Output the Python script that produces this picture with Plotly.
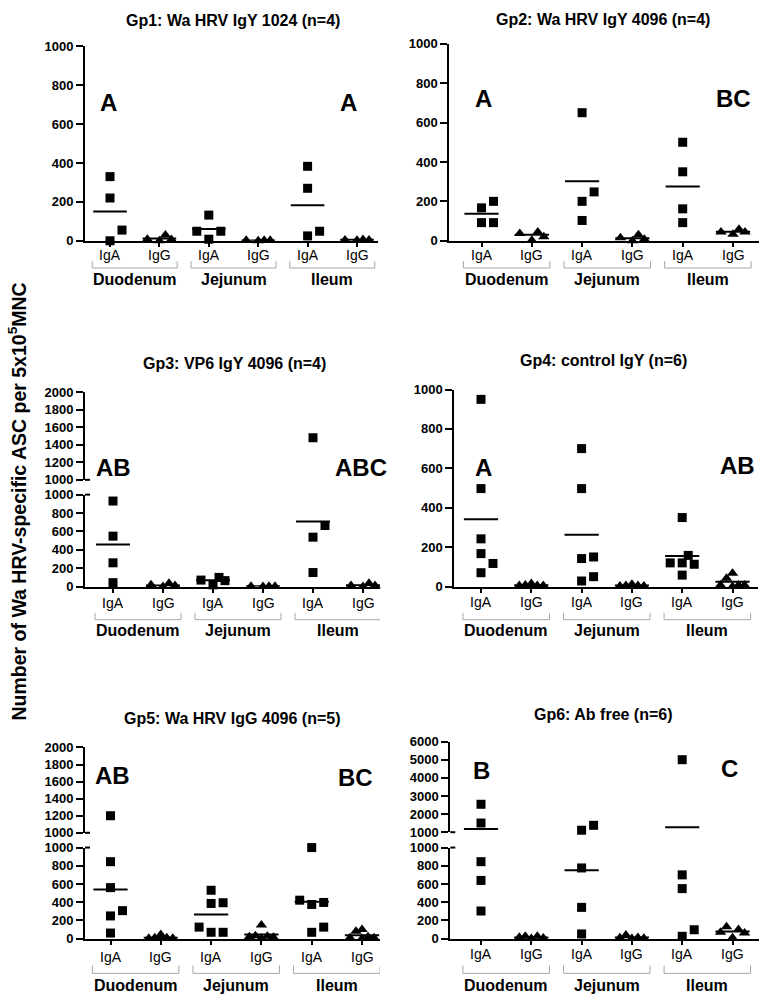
import plotly.graph_objects as go

W, H = 762, 1005
FONT = "Arial, Liberation Sans, sans-serif"

# ---------------- data ----------------
categories = ["IgA", "IgG", "IgA", "IgG", "IgA", "IgG"]
regions = ["Duodenum", "Jejunum", "Ileum"]
titles = ["Gp1: Wa HRV IgY 1024 (n=4)", "Gp2: Wa HRV IgY 4096 (n=4)",
          "Gp3: VP6 IgY 4096 (n=4)", "Gp4: control IgY (n=6)",
          "Gp5: Wa HRV IgG 4096 (n=5)", "Gp6: Ab free (n=6)"]
letters = [["A", "A"], ["A", "BC"], ["AB", "ABC"], ["A", "AB"], ["AB", "BC"], ["B", "C"]]
y_title = "Number of Wa HRV-specific ASC per 5x10<sup>5</sup>MNC"

gp1_iga = [[330, 220, 55, 0], [132, 49, 49, 8], [383, 270, 49, 25]]
gp1_igg = [[8, 0, 30, 7], [2, 0, 3, 2], [4, 2, 6, 4]]
gp1_iga_mean = [150, 60, 183]
gp1_igg_mean = [12, 1, 5]

gp2_iga = [[200, 167, 92, 92], [650, 248, 200, 103], [500, 350, 162, 92]]
gp2_igg = [[37, 3, 45, 20], [15, 0, 30, 8], [45, 33, 58, 45]]
gp2_iga_mean = [137, 302, 276]
gp2_igg_mean = [30, 13, 46]

gp3_iga = [[930, 548, 258, 42], [70, 18, 99, 64], [1480, 664, 537, 152]]
gp3_igg = [[18, 0, 35, 10], [2, 0, 3, 2], [10, 0, 35, 10]]
gp3_iga_mean = [458, 68, 707]
gp3_igg_mean = [12, 2, 14]

gp4_iga = [[950, 497, 242, 167, 117, 70], [700, 497, 150, 142, 50, 28],
           [350, 158, 120, 120, 113, 58]]
gp4_igg = [[5, 5, 0, 15, 8, 5], [3, 5, 0, 12, 5, 3], [8, 42, 67, 0, 8, 8]]
gp4_iga_mean = [342, 263, 155]
gp4_igg_mean = [6, 5, 24]

gp5_iga = [[1200, 845, 560, 307, 249, 61], [531, 394, 386, 126, 69, 69],
           [1000, 422, 397, 375, 126, 69]]
gp5_igg = [[8, 3, 45, 0, 8, 5], [148, 25, 20, 5, 30, 15], [20, 80, 100, 0, 10, 10]]
gp5_iga_mean = [538, 265, 404]
gp5_igg_mean = [10, 45, 36]

gp6_iga = [[2540, 1507, 845, 639, 303], [1380, 1109, 776, 343, 51],
           [5000, 700, 549, 97, 25]]
gp6_igg = [[14, 25, 0, 25, 7], [10, 40, 0, 12, 5], [60, 130, 10, 100, 70]]
gp6_iga_mean = [1181, 752, 1272]
gp6_igg_mean = [12, 12, 79]

lower_ticks = [0, 200, 400, 600, 800, 1000]
upper_ticks_2000 = [1000, 1200, 1400, 1600, 1800, 2000]
upper_ticks_6000 = [1000, 2000, 3000, 4000, 5000, 6000]

# ---------------- layout geometry (pixels) ----------------
panels = [
    dict(iga=gp1_iga, igg=gp1_igg, mA=gp1_iga_mean, mG=gp1_igg_mean,
         left=85, right=378, c0=110, sp=49.4, low=(237.3, 40.0), up=None,
         title=(233, 14), let=[(108, 97), (348, 97)], lab=252, br=(258, 265), grp=277),
    dict(iga=gp2_iga, igg=gp2_igg, mA=gp2_iga_mean, mG=gp2_igg_mean,
         left=449.3, right=758.5, c0=481.5, sp=50.3, low=(237.3, 37.3), up=None,
         title=(603, 13), let=[(483, 93), (733, 93)], lab=252, br=(258, 265), grp=277),
    dict(iga=gp3_iga, igg=gp3_igg, mA=gp3_iga_mean, mG=gp3_igg_mean,
         left=85, right=380, c0=113, sp=50, low=(588.3, 495.0),
         up=(480.0, 391.0, 2000, upper_ticks_2000),
         title=(234, 362), let=[(113, 467), (361, 467)], lab=605, br=(615, 622), grp=633),
    dict(iga=gp4_iga, igg=gp4_igg, mA=gp4_iga_mean, mG=gp4_igg_mean,
         left=454.3, right=757.7, c0=481, sp=50.3, low=(588.3, 388.3), up=None,
         title=(603, 359), let=[(483, 467), (737, 465)], lab=604, br=(615, 622), grp=633),
    dict(iga=gp5_iga, igg=gp5_igg, mA=gp5_iga_mean, mG=gp5_igg_mean,
         left=85, right=380, c0=110.5, sp=50.3, low=(945.7, 853.3),
         up=(838.3, 751.7, 2000, upper_ticks_2000),
         title=(233, 722), let=[(112, 780), (355, 782)], lab=964, br=(973, 981), grp=993),
    dict(iga=gp6_iga, igg=gp6_igg, mA=gp6_iga_mean, mG=gp6_igg_mean,
         left=450.3, right=758.5, c0=481, sp=50.3, low=(945.7, 853.3),
         up=(837.7, 745.7, 6000, upper_ticks_6000),
         title=(603, 718), let=[(481, 775), (729, 773)], lab=961, br=(973, 981), grp=993),
]


def xp(px):
    return px / W


def yp(py):
    return 1 - py / H


def swarm(values, to_px):
    """Deterministic horizontal spread of points that sit close together (pixels)."""
    cands = [0, 12, -12, 6, -6, 9, -9, 3, -3]
    order = sorted(range(len(values)), key=lambda i: values[i])
    placed, offs = [], [0] * len(values)
    for i in order:
        y = to_px(values[i])
        best, best_hits = 0, None
        for c in cands:
            hits = sum(1 for dx, py in placed if abs(c - dx) < 5.5 and abs(y - py) < 12)
            if best_hits is None or hits < best_hits:
                best, best_hits = c, hits
            if hits == 0:
                break
        offs[i] = best
        placed.append((best, y))
    return offs


fig = go.Figure()
layout = dict(width=W, height=H, autosize=False, margin=dict(l=0, r=0, t=0, b=0),
              paper_bgcolor="white", plot_bgcolor="rgba(0,0,0,0)", showlegend=False,
              font=dict(family=FONT, color="black"))
annotations, shapes = [], []

ax_y = 0
for pi, p in enumerate(panels):
    xi = pi + 1
    xname = "x" if xi == 1 else f"x{xi}"
    xkey = "xaxis" if xi == 1 else f"xaxis{xi}"
    ax_y += 1
    ylow = "y" if ax_y == 1 else f"y{ax_y}"
    ylowkey = "yaxis" if ax_y == 1 else f"yaxis{ax_y}"
    yup = yupkey = None
    if p["up"]:
        ax_y += 1
        yup, yupkey = f"y{ax_y}", f"yaxis{ax_y}"

    xr = [(p["left"] - p["c0"]) / p["sp"], (p["right"] - p["c0"]) / p["sp"]]
    layout[xkey] = dict(domain=[xp(p["left"]), xp(p["right"])], range=xr, anchor=ylow,
                        tickmode="array", tickvals=list(range(6)), showticklabels=False,
                        ticks="outside", ticklen=4, tickwidth=2, tickcolor="black",
                        showline=True, linewidth=2, linecolor="black",
                        showgrid=False, zeroline=False)
    ytick_common = dict(ticks="outside", ticklen=7, tickwidth=2, tickcolor="black",
                        showline=True, linewidth=2, linecolor="black",
                        showgrid=False, zeroline=False, anchor=xname,
                        tickfont=dict(family=FONT, size=13, color="black", weight="bold"))
    layout[ylowkey] = dict(domain=[yp(p["low"][0]), yp(p["low"][1])], range=[0, 1000],
                           tickmode="array", tickvals=lower_ticks, **ytick_common)
    if p["up"]:
        u0, u1, umax, uticks = p["up"]
        layout[yupkey] = dict(domain=[yp(u0), yp(u1)], range=[1000, umax],
                              tickmode="array", tickvals=uticks, **ytick_common)
        # break marks: short stubs right of the axis at both ends of the gap
        for yy in (u0, p["low"][1]):
            shapes.append(dict(type="line", xref="paper", yref="paper",
                               x0=xp(p["left"]), x1=xp(p["left"] + 5),
                               y0=yp(yy), y1=yp(yy), line=dict(color="black", width=2)))

    def to_px(v, p=p):
        y0, y1 = p["low"]
        if v <= 1000 or not p["up"]:
            return y0 + (y1 - y0) * v / 1000
        u0, u1, umax, _ = p["up"]
        return u0 + (u1 - u0) * (v - 1000) / (umax - 1000)

    for r in range(3):
        for kind, vals, means, sym, size in (("A", p["iga"][r], p["mA"], "square", 9),
                                              ("G", p["igg"][r], p["mG"], "triangle-up", 10)):
            c = 2 * r + (0 if kind == "A" else 1)
            offs = swarm(vals, to_px)
            lowx, lowy, upx, upy = [], [], [], []
            for v, o in zip(vals, offs):
                xv = c + o / p["sp"]
                if v > 1000 and p["up"]:
                    upx.append(xv); upy.append(v)
                else:
                    lowx.append(xv); lowy.append(v)
            for xs, ys, ya in ((lowx, lowy, ylow), (upx, upy, yup)):
                if xs:
                    fig.add_trace(go.Scatter(x=xs, y=ys, xaxis=xname, yaxis=ya, mode="markers",
                                             cliponaxis=False, hoverinfo="y",
                                             marker=dict(symbol=sym, size=size, color="black",
                                                         line=dict(width=0))))
            m = means[r]
            ya = yup if (m > 1000 and p["up"]) else ylow
            fig.add_trace(go.Scatter(x=[c - 0.34, c + 0.34], y=[m, m], xaxis=xname, yaxis=ya,
                                     mode="lines", cliponaxis=False, hoverinfo="skip",
                                     line=dict(color="black", width=2)))

    # category labels (IgA / IgG)
    for ci, cat in enumerate(categories):
        annotations.append(dict(x=ci, xref=xname, y=yp(p["lab"]), yref="paper", text=cat,
                                showarrow=False, xanchor="center", yanchor="middle",
                                font=dict(family=FONT, size=14, color="black")))
    # brackets and region labels
    b0, b1 = p["br"]
    for r in range(3):
        xa, xb = 2 * r - 0.36, 2 * r + 1.36
        shapes.append(dict(type="path", xref=xname, yref="paper",
                           path=f"M {xa},{yp(b0)} L {xa},{yp(b1)} L {xb},{yp(b1)} L {xb},{yp(b0)}",
                           line=dict(color="#a6a6a6", width=1)))
        annotations.append(dict(x=2 * r + 0.5, xref=xname, y=yp(p["grp"]), yref="paper",
                                text=regions[r], showarrow=False, xanchor="center",
                                yanchor="middle",
                                font=dict(family=FONT, size=16, color="black", weight="bold")))
    # title
    annotations.append(dict(x=xp(p["title"][0]), y=yp(p["title"][1]), xref="paper",
                            yref="paper", text=titles[pi], showarrow=False,
                            xanchor="center", yanchor="middle",
                            font=dict(family=FONT, size=16, color="black", weight="bold")))
    # significance letters
    for (lx, ly), txt in zip(p["let"], letters[pi]):
        annotations.append(dict(x=xp(lx), y=yp(ly), xref="paper", yref="paper", text=txt,
                                showarrow=False, xanchor="center", yanchor="middle",
                                font=dict(family=FONT, size=24, color="black", weight="bold")))

annotations.append(dict(x=xp(17), y=yp(502), xref="paper", yref="paper", text=y_title,
                        textangle=-90, showarrow=False, xanchor="center", yanchor="middle",
                        font=dict(family=FONT, size=19.5, color="black", weight="bold")))

layout["annotations"] = annotations
layout["shapes"] = shapes
fig.update_layout(**layout)
fig.write_html("out.html", config=dict(displayModeBar=False),
               post_script="document.body.style.margin='0';document.body.style.overflow='hidden';")
